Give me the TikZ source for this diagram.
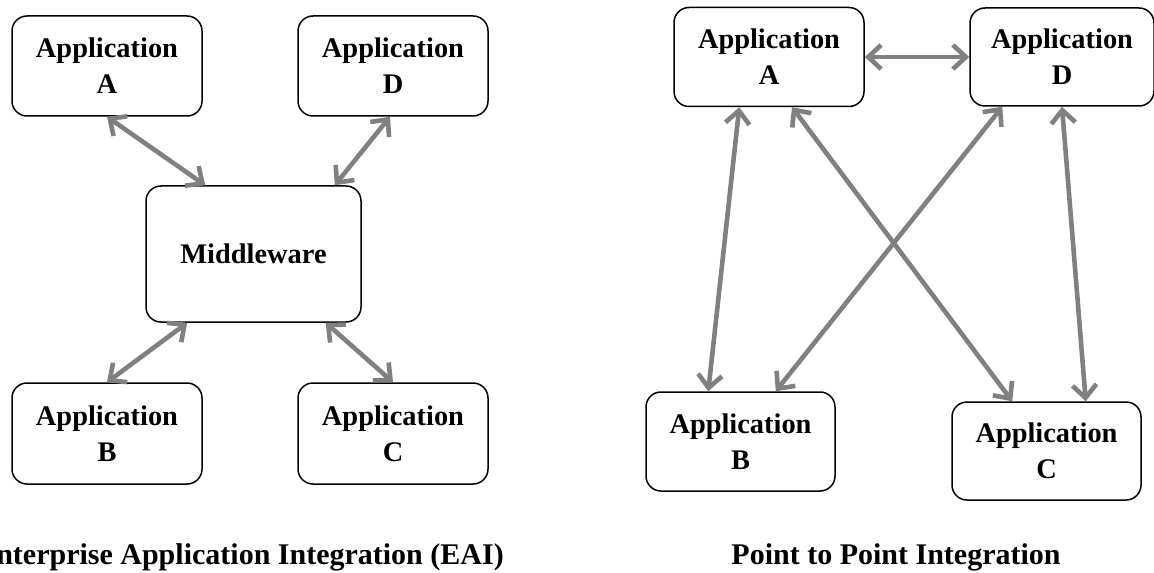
\documentclass[tikz,border=0pt]{standalone}
\usepackage{fontspec}
\setmainfont{Liberation Serif}
\usetikzlibrary{arrows.meta}
\definecolor{linkgray}{RGB}{128,128,128}
\tikzset{
  appbox/.style={draw=black, line width=0.75pt, rounded corners=7.5pt, fill=white,
    align=center, inner sep=0pt,
    font=\bfseries\fontsize{14.2}{18}\selectfont},
  link/.style={draw=linkgray, line width=2.3pt,
    {Straight Barb[length=6.5pt,width=12pt]}-{Straight Barb[length=6.5pt,width=12pt]}},
  caption/.style={anchor=base, inner sep=0pt, font=\bfseries\fontsize{15}{18}\selectfont}
}
\begin{document}
\begin{tikzpicture}[x=0.5pt, y=-0.5pt]
  \useasboundingbox (0,0) rectangle (1154,572);

  % ---- Enterprise Application Integration: hub and spokes ----
  \node[appbox, minimum width=95pt, minimum height=50pt] (lA) at (107,66) {Application\\A};
  \node[appbox, minimum width=95pt, minimum height=50pt] (lD) at (393,66) {Application\\D};
  \node[appbox, minimum width=107.5pt, minimum height=68pt] (lM) at (253.5,254) {Middleware};
  \node[appbox, minimum width=95pt, minimum height=50.5pt] (lB) at (107,433.5) {Application\\B};
  \node[appbox, minimum width=95pt, minimum height=50.5pt] (lC) at (393,433.5) {Application\\C};

  \draw[link] (lA.south) -- ([xshift=30pt]lM.north west);
  \draw[link] ([xshift=-1.5pt]lD.south) -- ([xshift=-13.5pt]lM.north east);
  \draw[link] ([xshift=21pt]lM.south west) -- (lB.north);
  \draw[link] ([xshift=-18pt]lM.south east) -- (lC.north);

  \node[caption] (capL) at (240,564) {Enterprise Application Integration (EAI)};

  % ---- Point to point: every application linked directly ----
  \node[appbox, minimum width=95pt, minimum height=49.5pt] (rA) at (769,57) {Application\\A};
  \node[appbox, minimum width=92pt, minimum height=49pt] (rD) at (1062,57) {Application\\D};
  \node[appbox, minimum width=94.5pt, minimum height=49.5pt] (rB) at (740.5,441.5) {Application\\B};
  \node[appbox, minimum width=94.5pt, minimum height=49pt] (rC) at (1046.5,451) {Application\\C};

  \draw[link] (rA.east) -- (rD.west);
  \draw[link] ([xshift=33pt]rA.south west) -- ([xshift=31.5pt]rB.north west);
  \draw[link] ([xshift=11.5pt]rA.south) -- ([xshift=30.5pt]rC.north west);
  \draw[link] ([xshift=16.5pt]rD.south west) -- ([xshift=-30pt]rB.north east);
  \draw[link] (rD.south) -- ([xshift=-28pt]rC.north east);

  \node[caption] (capR) at (896,564) {Point to Point Integration};
\end{tikzpicture}
\end{document}
